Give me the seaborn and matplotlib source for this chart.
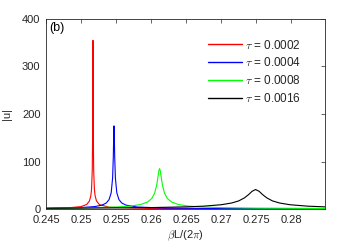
import matplotlib
matplotlib.use("Agg")
import matplotlib.pyplot as plt
import seaborn as sns
import pandas as pd

# ---- data ----
labels = [r"$\tau$ = 0.0002", r"$\tau$ = 0.0004", r"$\tau$ = 0.0008", r"$\tau$ = 0.0016"]
colors = ["#ff0000", "#0000ff", "#00ff00", "#000000"]

x_red = [0.245, 0.248, 0.250, 0.2508, 0.2512, 0.2514, 0.2515, 0.2516, 0.25165, 0.25168,
         0.2517, 0.25172, 0.25175, 0.2518, 0.2519, 0.2520, 0.2522, 0.2526, 0.2540, 0.2600,
         0.2700, 0.2850]
y_red = [1.3, 2.3, 5.0, 9.5, 17, 28.3, 42.3, 82.6, 154, 273,
         355, 273, 154, 82.6, 42.3, 28.3, 17, 9.5, 3.7, 1.0,
         0.47, 0.26]

x_blue = [0.245, 0.250, 0.252, 0.253, 0.2536, 0.2540, 0.2543, 0.2545, 0.2546, 0.25466,
          0.2547, 0.25474, 0.2548, 0.2549, 0.2551, 0.2554, 0.2558, 0.2564, 0.2580, 0.2620,
          0.2700, 0.2850]
y_blue = [1.4, 3.0, 5.2, 8.2, 12.7, 19.9, 34.3, 65, 109, 156.5,
          175, 156.5, 109, 65, 34.3, 19.9, 12.7, 8.2, 4.2, 1.9,
          0.92, 0.46]

x_green = [0.245, 0.250, 0.255, 0.257, 0.2585, 0.2595, 0.2601, 0.2605, 0.2608, 0.2610,
           0.2611, 0.2612, 0.2613, 0.2614, 0.2616, 0.2619, 0.2623, 0.2629, 0.2639, 0.2654,
           0.2674, 0.2700, 0.2750, 0.2850]
y_green = [1.6, 2.3, 4.1, 6.0, 9.4, 14.8, 22.3, 33.5, 51, 70.7,
           80.6, 85, 80.6, 70.7, 51, 33.5, 22.3, 14.8, 9.4, 6.0,
           4.1, 2.9, 1.85, 1.1]

x_black = [0.245, 0.255, 0.260, 0.265, 0.2675, 0.2700, 0.2715, 0.2725, 0.2733, 0.2739,
           0.2744, 0.2749, 0.2754, 0.2759, 0.2765, 0.2773, 0.2783, 0.2798, 0.2823, 0.2848]
y_black = [1.5, 2.3, 3.0, 4.5, 6.0, 9.0, 12.7, 17.1, 23.4, 30.3,
           37.3, 41, 37.3, 30.3, 23.4, 17.1, 12.7, 9.0, 6.0, 4.5]

xticks = [0.245, 0.25, 0.255, 0.26, 0.265, 0.27, 0.275, 0.28]
xtick_labels = ["0.245", "0.25", "0.255", "0.26", "0.265", "0.27", "0.275", "0.28"]
yticks = [0, 100, 200, 300, 400]
ytick_labels = ["0", "100", "200", "300", "400"]

sns.set_style("white")
plt.rcParams["font.family"] = ["Liberation Sans", "DejaVu Sans"]
plt.rcParams["mathtext.fontset"] = "cm"
fs = 8
gray = "#262626"

fig = plt.figure(figsize=(3.59, 2.45), dpi=100)
ax = fig.add_axes([46 / 359, 1 - 209 / 245, 279 / 359, 190 / 245])

for lab, col, xs, ys in zip(labels, colors, [x_red, x_blue, x_green, x_black],
                            [y_red, y_blue, y_green, y_black]):
    d = pd.DataFrame({"x": xs, "y": ys})
    sns.lineplot(data=d, x="x", y="y", color=col, label=lab, linewidth=0.8,
                 ax=ax, estimator=None, sort=False)

ax.set_xlim(0.245, 0.2848)
ax.set_ylim(0, 400)
ax.set_xticks(xticks)
ax.set_xticklabels(xtick_labels)
ax.set_yticks(yticks)
ax.set_yticklabels(ytick_labels)
ax.tick_params(direction="in", length=3, width=0.5, top=True, right=True,
               labelsize=fs, colors=gray)
ax.tick_params(axis="x", pad=4)
ax.tick_params(axis="y", pad=4)
for s in ax.spines.values():
    s.set_color(gray)
    s.set_linewidth(0.6)
    s.set_visible(True)

ax.set_xlabel(r"$\beta$L/(2$\pi$)", fontsize=fs, color=gray, labelpad=3)
ax.set_ylabel("|u|", fontsize=fs, color=gray, labelpad=7)
ax.text(0.01, 0.985, "(b)", transform=ax.transAxes, fontsize=9,
        va="top", ha="left", color="black")

handles, labs = ax.get_legend_handles_labels()
leg = ax.legend(handles, labs, loc="upper left", bbox_to_anchor=(0.58, 0.897),
                frameon=False, fontsize=8.5, handlelength=2.9, handletextpad=0.25,
                labelspacing=0.4, borderpad=0, borderaxespad=0)
for h in leg.get_lines():
    h.set_linewidth(1.0)

fig.savefig("out.png", dpi=100)
